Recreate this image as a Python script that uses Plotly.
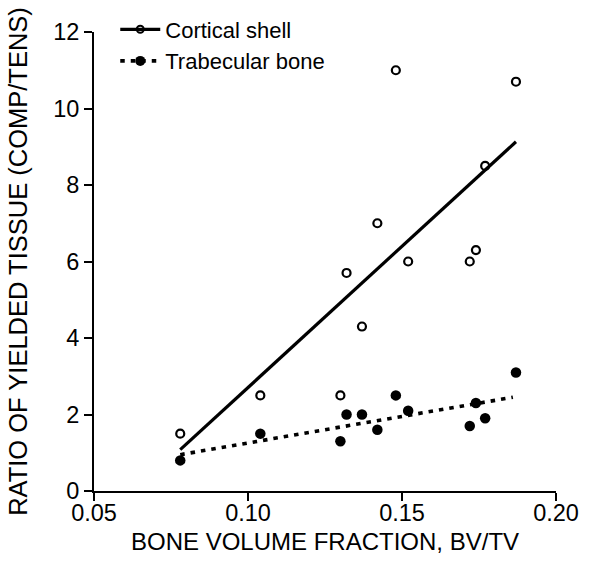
import plotly.graph_objects as go

bvtv = [0.078, 0.104, 0.130, 0.132, 0.137, 0.142, 0.148, 0.152, 0.172, 0.174, 0.177, 0.187]
cortical = [1.5, 2.5, 2.5, 5.7, 4.3, 7.0, 11.0, 6.0, 6.0, 6.3, 8.5, 10.7]
trabecular = [0.8, 1.5, 1.3, 2.0, 2.0, 1.6, 2.5, 2.1, 1.7, 2.3, 1.9, 3.1]

cort_fit_x = [0.078, 0.187]
cort_fit_y = [1.08, 9.13]
trab_fit_x = [0.078, 0.186]
trab_fit_y = [0.95, 2.45]

xticks = [0.05, 0.10, 0.15, 0.20]
yticks = [0, 2, 4, 6, 8, 10, 12]

FONT = "Liberation Sans, Arial, sans-serif"

fig = go.Figure()
fig.add_trace(go.Scatter(x=cort_fit_x, y=cort_fit_y, mode="lines",
                         line=dict(color="black", width=3.2), showlegend=False))
fig.add_trace(go.Scatter(x=trab_fit_x, y=trab_fit_y, mode="lines",
                         line=dict(color="black", width=3.6, dash="4.5px,6px"), showlegend=False))
fig.add_trace(go.Scatter(x=bvtv, y=cortical, mode="markers", showlegend=False,
                         marker=dict(symbol="circle-open", size=8, color="black", line=dict(width=2.2))))
fig.add_trace(go.Scatter(x=bvtv, y=trabecular, mode="markers", showlegend=False,
                         marker=dict(symbol="circle", size=10.5, color="black")))
# legend entries
fig.add_trace(go.Scatter(x=[None], y=[None], mode="lines+markers", name="Cortical shell",
                         line=dict(color="black", width=3.2),
                         marker=dict(symbol="circle-open", size=7, color="black", line=dict(width=2))))
fig.add_trace(go.Scatter(x=[None], y=[None], mode="lines+markers", name="Trabecular bone",
                         line=dict(color="black", width=3.6, dash="4.5px,6px"),
                         marker=dict(symbol="circle", size=10, color="black")))

fig.update_layout(
    width=590, height=566,
    margin=dict(l=94, r=34, t=32, b=75, autoexpand=False),
    plot_bgcolor="white", paper_bgcolor="white",
    font=dict(family=FONT, size=20, color="black"),
    showlegend=True,
    legend=dict(x=0.046, y=0.985, xanchor="left", yanchor="top", yref="container",
                bgcolor="rgba(0,0,0,0)", font=dict(size=22, family=FONT),
                tracegroupgap=0, itemwidth=40),
    xaxis=dict(range=[0.05, 0.20], tickvals=xticks, tickformat=".2f", automargin=False,
               showgrid=False, zeroline=False, showline=True, linecolor="black", linewidth=2,
               ticks="outside", ticklen=8, tickwidth=2, tickcolor="black",
               tickfont=dict(size=23.5), ticklabelstandoff=-8),
    yaxis=dict(range=[0, 12], tickvals=yticks, automargin=False,
               showgrid=False, zeroline=False, showline=True, linecolor="black", linewidth=2,
               ticks="outside", ticklen=8, tickwidth=2, tickcolor="black",
               tickfont=dict(size=23.5),
               title=dict(text="RATIO OF YIELDED TISSUE (COMP/TENS)", font=dict(size=25.5), standoff=18)),
    annotations=[dict(text="BONE VOLUME FRACTION, BV/TV", xref="paper", yref="paper",
                      x=0.5, y=-0.109, xanchor="center", yanchor="middle",
                      showarrow=False, font=dict(size=24, family=FONT))],
)

fig.write_html("out.html")
